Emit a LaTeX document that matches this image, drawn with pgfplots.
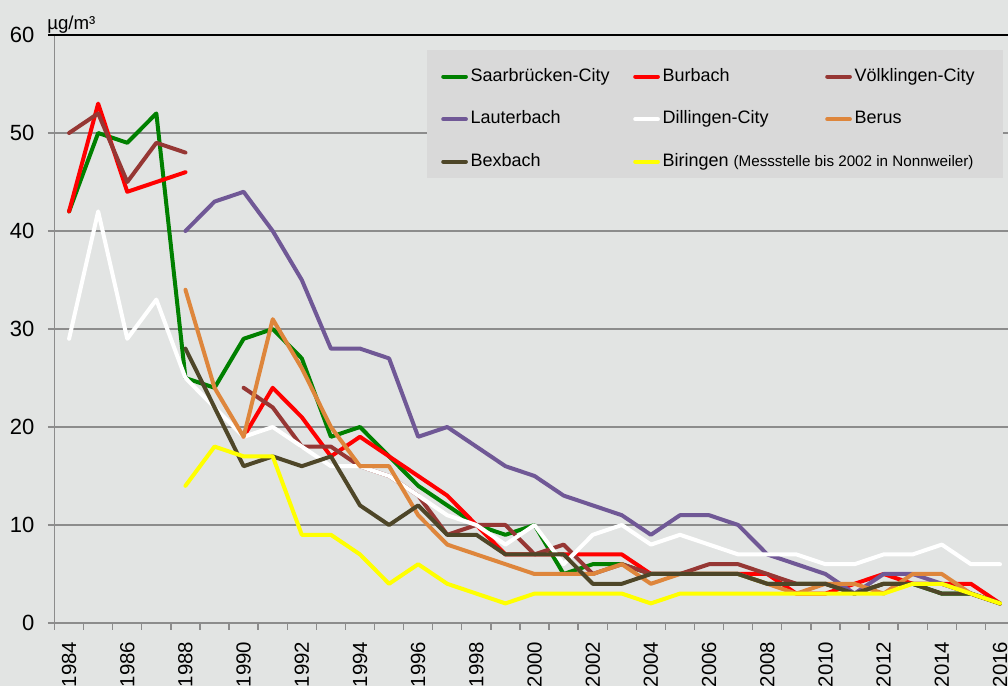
\documentclass[border=0pt]{standalone}
\usepackage{fontspec}
\setmainfont{Liberation Sans}
\usepackage{pgfplots}
\pgfplotsset{compat=1.18}

\definecolor{bg}{RGB}{226,228,227}
\definecolor{legbg}{RGB}{217,217,217}
\definecolor{gridgray}{RGB}{140,140,140}
\definecolor{cSaar}{RGB}{0,128,0}
\definecolor{cBurb}{RGB}{255,0,0}
\definecolor{cVoel}{RGB}{150,55,52}
\definecolor{cLaut}{RGB}{112,88,150}
\definecolor{cBerus}{RGB}{222,134,60}
\definecolor{cBex}{RGB}{78,70,40}
\definecolor{cBir}{RGB}{255,255,0}

\newcommand{\lent}[1]{\makebox[105pt][l]{#1}}

\begin{document}
\begin{tikzpicture}
\path[use as bounding box, fill=bg] (0,0) rectangle (756pt,514.5pt);
\begin{axis}[
    name=ax,
    at={(40.9pt,47.25pt)}, anchor=south west,
    scale only axis, width=715.1pt, height=441pt,
    xmin=1983.5, xmax=2016.275, ymin=0, ymax=60,
    clip=false,
    axis x line*=bottom, axis y line*=left,
    axis line style={gridgray, line width=1pt, -},
    xtick={1984,1986,...,2016},
    minor xtick={1983.5,1984.5,...,2016.5},
    ytick={0,10,...,60},
    tick align=outside,
    major tick length=5pt, minor tick length=5pt,
    major x tick style={draw=none},
    minor x tick style={gridgray, line width=1pt},
    major y tick style={gridgray, line width=1pt},
    ymajorgrids, grid style={gridgray, line width=1pt},
    /pgf/number format/1000 sep={},
    /pgf/number format/assume math mode=true,
    yticklabel style={font=\fontsize{16.5}{18}\selectfont, inner sep=0pt},
    xticklabel style={font=\fontsize{15.3}{17}\selectfont, rotate=90, anchor=east, inner sep=0pt},
    xticklabel shift=9pt,
    yticklabel shift=10pt,
    unbounded coords=jump,
    every axis plot/.append style={line width=3pt, line join=round, line cap=round},
    legend columns=3,
    legend cell align=left,
    legend image code/.code={\draw[#1] (1.5pt,0pt) -- (18.5pt,0pt);},
    legend style={draw=none, fill=none, inner sep=0pt,
        at={(rel axis cs:0.4053,0.9444)}, anchor=north west,
        font=\fontsize{13.5}{16}\selectfont,
        nodes={inner sep=0pt, text height=10pt, text depth=3pt},
        row sep=18.9pt,
        /tikz/every odd column/.append style={column sep=2pt},
        /tikz/every even column/.append style={column sep=17pt}},
]

\fill[legbg] (rel axis cs:0.3907,0.9745) rectangle (rel axis cs:0.9948,0.7568);

\addplot[cSaar] coordinates {
 (1984,42) (1985,50) (1986,49) (1987,52) (1988,25) (1989,24) (1990,29) (1991,30)
 (1992,27) (1993,19) (1994,20) (1995,17) (1996,14) (1997,12) (1998,10) (1999,9)
 (2000,10) (2001,5) (2002,6) (2003,6) (2004,5) (2005,5) (2006,5) (2007,5)
 (2008,4) (2009,4) (2010,4) (2011,3) (2012,4) (2013,4) (2014,3) (2015,3) (2016,2)
};
\addlegendentry{\lent{Saarbrücken-City}}

\addplot[cBurb] coordinates {
 (1984,42) (1985,53) (1986,44) (1987,45) (1988,46) (1989,nan) (1990,19) (1991,24)
 (1992,21) (1993,17) (1994,19) (1995,17) (1996,15) (1997,13) (1998,10) (1999,7)
 (2000,7) (2001,7) (2002,7) (2003,7) (2004,5) (2005,5) (2006,5) (2007,5)
 (2008,5) (2009,3) (2010,3) (2011,4) (2012,5) (2013,4) (2014,4) (2015,4) (2016,2)
};
\addlegendentry{\lent{Burbach}}

\addplot[cVoel] coordinates {
 (1984,50) (1985,52) (1986,45) (1987,49) (1988,48) (1989,nan) (1990,24) (1991,22)
 (1992,18) (1993,18) (1994,16) (1995,15) (1996,13) (1997,9) (1998,10) (1999,10)
 (2000,7) (2001,8) (2002,5) (2003,6) (2004,5) (2005,5) (2006,6) (2007,6)
 (2008,5) (2009,4) (2010,4) (2011,3) (2012,4) (2013,4) (2014,4) (2015,3) (2016,2)
};
\addlegendentry{\lent{Völklingen-City}}

\addplot[cLaut] coordinates {
 (1988,40) (1989,43) (1990,44) (1991,40) (1992,35) (1993,28) (1994,28) (1995,27)
 (1996,19) (1997,20) (1998,18) (1999,16) (2000,15) (2001,13) (2002,12) (2003,11)
 (2004,9) (2005,11) (2006,11) (2007,10) (2008,7) (2009,6) (2010,5) (2011,3)
 (2012,5) (2013,5) (2014,4) (2015,3) (2016,2)
};
\addlegendentry{\lent{Lauterbach}}

\addplot[white] coordinates {
 (1984,29) (1985,42) (1986,29) (1987,33) (1988,25) (1989,22) (1990,19) (1991,20)
 (1992,18) (1993,16) (1994,16) (1995,15) (1996,13) (1997,11) (1998,10) (1999,8)
 (2000,10) (2001,6) (2002,9) (2003,10) (2004,8) (2005,9) (2006,8) (2007,7)
 (2008,7) (2009,7) (2010,6) (2011,6) (2012,7) (2013,7) (2014,8) (2015,6) (2016,6)
};
\addlegendentry{\lent{Dillingen-City}}

\addplot[cBerus] coordinates {
 (1988,34) (1989,24) (1990,19) (1991,31) (1992,26) (1993,20) (1994,16) (1995,16)
 (1996,11) (1997,8) (1998,7) (1999,6) (2000,5) (2001,5) (2002,5) (2003,6)
 (2004,4) (2005,5) (2006,5) (2007,5) (2008,4) (2009,3) (2010,4) (2011,4)
 (2012,3) (2013,5) (2014,5) (2015,3) (2016,2)
};
\addlegendentry{\lent{Berus}}

\addplot[cBex] coordinates {
 (1988,28) (1989,22) (1990,16) (1991,17) (1992,16) (1993,17) (1994,12) (1995,10)
 (1996,12) (1997,9) (1998,9) (1999,7) (2000,7) (2001,7) (2002,4) (2003,4)
 (2004,5) (2005,5) (2006,5) (2007,5) (2008,4) (2009,4) (2010,4) (2011,3)
 (2012,4) (2013,4) (2014,3) (2015,3) (2016,2)
};
\addlegendentry{\lent{Bexbach}}

\addplot[cBir] coordinates {
 (1988,14) (1989,18) (1990,17) (1991,17) (1992,9) (1993,9) (1994,7) (1995,4)
 (1996,6) (1997,4) (1998,3) (1999,2) (2000,3) (2001,3) (2002,3) (2003,3)
 (2004,2) (2005,3) (2006,3) (2007,3) (2008,3) (2009,3) (2010,3) (2011,3)
 (2012,3) (2013,4) (2014,4) (2015,3) (2016,2)
};
\addlegendentry{\lent{Biringen {\fontsize{11.4}{13}\selectfont(Messstelle bis 2002 in Nonnweiler)}}}

\end{axis}
\draw[black, line width=1pt] ([xshift=-5pt]ax.north west) -- (ax.north east);
\node[anchor=base west, inner sep=0pt, font=\fontsize{14}{16}\selectfont]
    at ([xshift=-5.6pt, yshift=4.5pt]ax.north west) {µg/m³};
\end{tikzpicture}
\end{document}
